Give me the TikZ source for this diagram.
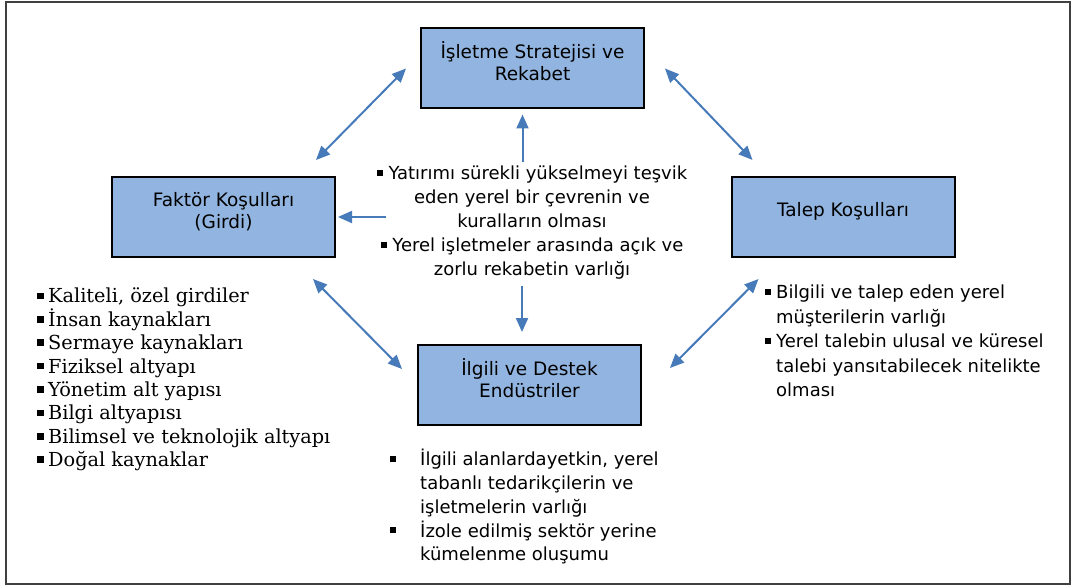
\documentclass[tikz,border=0pt]{standalone}
\usepackage{fontspec}
\setmainfont{DejaVu Sans}
\newfontfamily\listserif{DejaVu Serif}
\usetikzlibrary{arrows.meta}
\definecolor{porterblue}{RGB}{145,181,224}
\definecolor{porterarrow}{RGB}{70,122,185}
\definecolor{porterframe}{RGB}{64,64,64}
\newcommand{\sqb}{\rule[0.2em]{0.34em}{0.34em}}
\newcommand{\bul}[1]{\makebox[#1][l]{\sqb}}

\begin{document}
\begin{tikzpicture}[x=1pt,y=-1pt,
  box/.style={draw=black, line width=2pt, fill=porterblue, minimum width=223pt, minimum height=80pt},
  boxtext/.style={align=center, inner sep=0pt, font=\fontsize{18.5}{22}\selectfont},
  sans/.style={inner sep=0pt, font=\fontsize{18}{24}\selectfont},
  dbl/.style={{Triangle[length=14pt,width=12pt]}-{Triangle[length=14pt,width=12pt]}, draw=porterarrow, line width=2pt},
  one/.style={-{Triangle[length=14pt,width=12pt]}, draw=porterarrow, line width=2pt}]
\useasboundingbox (0,0) rectangle (1073,588);
% frame
\draw[porterframe, line width=2pt] (6,2) rectangle (1070,584);
% the four boxes
\node[box] (str) at (532.5,68.5) {};
\node[box] (fak) at (223.5,217) {};
\node[box] (tal) at (843,217) {};
\node[box] (ilg) at (529.5,385) {};
\node[boxtext] (strtxt) at ([yshift=7pt]str.center) {İşletme Stratejisi ve\\Rekabet};
\node[boxtext] (faktxt) at ([yshift=5pt]fak.center) {Faktör Koşulları\\(Girdi)};
\node[boxtext] (taltxt) at ([yshift=6pt]tal.center) {Talep Koşulları};
\node[boxtext] (ilgtxt) at ([yshift=7pt]ilg.center) {İlgili ve Destek\\Endüstriler};
% texts
\node[sans, align=center] (mid) at (532,223) {\sqb\ Yatırımı sürekli yükselmeyi teşvik\\
  eden yerel bir çevrenin ve\\ kuralların olması\\
  \sqb\ Yerel işletmeler arasında açık ve\\ zorlu rekabetin varlığı};
\node[inner sep=0pt, anchor=north west, align=left, font=\listserif\fontsize{19.3}{23.4}\selectfont] (faklist) at (37,288)
  {\bul{11pt}Kaliteli, özel girdiler\\ \bul{11pt}İnsan kaynakları\\ \bul{11pt}Sermaye kaynakları\\
   \bul{11pt}Fiziksel altyapı\\ \bul{11pt}Yönetim alt yapısı\\ \bul{11pt}Bilgi altyapısı\\
   \bul{11pt}Bilimsel ve teknolojik altyapı\\ \bul{11pt}Doğal kaynaklar};
\node[sans, anchor=north west, align=left, font=\fontsize{18}{24.5}\selectfont] (tallist) at (765,285)
  {\bul{11pt}Bilgili ve talep eden yerel\\ \hspace*{11pt}müşterilerin varlığı\\
   \bul{11pt}Yerel talebin ulusal ve küresel\\ \hspace*{11pt}talebi yansıtabilecek nitelikte\\
   \hspace*{11pt}olması};
\node[sans, anchor=north west, align=left, font=\fontsize{18}{23.8}\selectfont] (ilglist) at (390,449)
  {\bul{30pt}İlgili alanlardayetkin, yerel\\ \hspace*{30pt}tabanlı tedarikçilerin ve\\
   \hspace*{30pt}işletmelerin varlığı\\
   \bul{30pt}İzole edilmiş sektör yerine\\ \hspace*{30pt}kümelenme oluşumu};
% arrows
\draw[dbl] ([shift={(-20pt,16pt)}]fak.north east) -- ([xshift=-14pt]str.west);
\draw[dbl] ([xshift=20pt]str.east) -- ([shift={(22pt,16pt)}]tal.north west);
\draw[dbl] ([shift={(-23pt,-21pt)}]fak.south east) -- ([shift={(-15pt,16pt)}]ilg.west);
\draw[dbl] ([shift={(28pt,-21pt)}]tal.south west) -- ([shift={(28pt,17pt)}]ilg.east);
\draw[one] ([shift={(-10pt,-53pt)}]str.south) -- ([shift={(-10pt,-5pt)}]str.south);
\draw[one] ([xshift=50pt]fak.east) -- ([xshift=2pt]fak.east);
\draw[one] ([shift={(-7.5pt,58pt)}]ilg.north) -- ([shift={(-7.5pt,12pt)}]ilg.north);
\end{tikzpicture}
\end{document}
